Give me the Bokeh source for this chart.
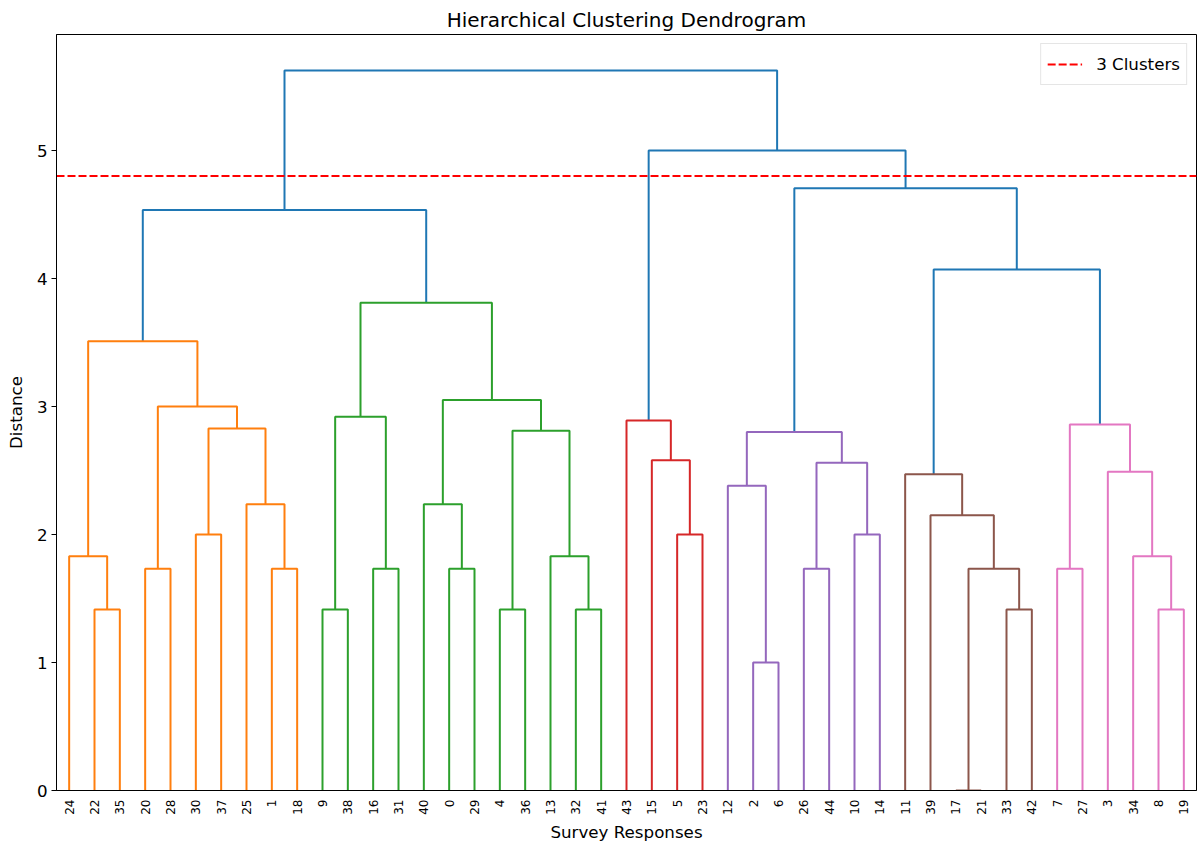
import math
from bokeh.plotting import figure
from bokeh.models import FixedTicker, Legend, LegendItem
from bokeh.embed import file_html
from bokeh.resources import INLINE

# ---------------- data ----------------
n_leaves = 45
# merges in linkage order: new cluster id = n_leaves + index
merge_left = [22, 24, 20, 30, 1, 25, 48, 47, 46,
              9, 16, 54, 0, 40, 4, 32, 13, 59, 58, 56, 53,
              5, 15, 43,
              2, 12, 26, 10, 71, 70,
              17, 33, 75, 39, 11,
              7, 8, 34, 3, 80,
              79, 74, 68, 65]
merge_right = [35, 45, 28, 37, 18, 49, 50, 51, 52,
               38, 31, 55, 29, 57, 36, 41, 60, 61, 62, 63, 64,
               23, 66, 67,
               6, 69, 44, 14, 72, 73,
               21, 42, 76, 77, 78,
               27, 19, 81, 82, 83,
               84, 85, 86, 87]
merge_height = [1.414, 1.83, 1.732, 2.0, 1.732, 2.236, 2.828, 3.0, 3.51,
                1.414, 1.732, 2.92, 1.732, 2.236, 1.414, 1.414, 1.83, 2.81, 3.05, 3.81, 4.535,
                2.0, 2.58, 2.89,
                1.0, 2.38, 1.732, 2.0, 2.56, 2.8,
                0.0, 1.414, 1.732, 2.15, 2.47,
                1.732, 1.414, 1.83, 2.49, 2.86,
                4.07, 4.705, 5.0, 5.625]
cut_height = 4.8
cut_label = "3 Clusters"
palette = ["#ff7f0e", "#2ca02c", "#d62728", "#9467bd", "#8c564b",
           "#e377c2", "#7f7f7f", "#bcbd22", "#17becf"]
above_color = "#1f77b4"

# ---------------- tree layout ----------------
root = n_leaves + len(merge_left) - 1
children = {n_leaves + i: (merge_left[i], merge_right[i]) for i in range(len(merge_left))}
heights = {n_leaves + i: merge_height[i] for i in range(len(merge_left))}

leaf_order = []
def collect(node):
    if node < n_leaves:
        leaf_order.append(node)
    else:
        l, r = children[node]
        collect(l)
        collect(r)
collect(root)

xpos = {leaf: 5 + 10 * i for i, leaf in enumerate(leaf_order)}
def place(node):
    if node < n_leaves:
        return xpos[node]
    l, r = children[node]
    xpos[node] = (place(l) + place(r)) / 2.0
    return xpos[node]
place(root)

def h(node):
    return 0.0 if node < n_leaves else heights[node]

thr = 0.7 * max(merge_height)
xs, ys, cols = [], [], []
color_idx = [0]
def draw(node, inherited):
    if node < n_leaves:
        return
    hh = heights[node]
    if inherited is None and hh < thr:
        c = palette[color_idx[0] % len(palette)]
        color_idx[0] += 1
        child_col = c
    elif inherited is not None:
        c = inherited
        child_col = inherited
    else:
        c = above_color
        child_col = None
    l, r = children[node]
    xs.append([xpos[l], xpos[l], xpos[r], xpos[r]])
    ys.append([h(l), hh, hh, h(r)])
    cols.append(c)
    draw(l, child_col)
    draw(r, child_col)
draw(root, None)

x_max = 10 * n_leaves
y_max = max(merge_height) * 1.05

# ---------------- figure ----------------
FONT = "DejaVu Sans"
p = figure(width=1198, height=846, output_backend="svg", toolbar_location=None,
           x_range=(0, x_max), y_range=(0, y_max),
           title="Hierarchical Clustering Dendrogram",
           min_border_left=56, min_border_right=2, min_border_top=34, min_border_bottom=56)
p.title.align = "center"
p.title.text_font = FONT
p.title.text_font_size = "20px"
p.title.text_font_style = "normal"
p.title.text_color = "black"
p.title.standoff = 6

p.multi_line(xs=xs, ys=ys, line_color=cols, line_width=2)

thr_line = p.line(x=[0, x_max], y=[cut_height, cut_height], line_color="#ff0000",
                  line_width=2, line_dash="8 3")

p.xgrid.visible = False
p.ygrid.visible = False
p.outline_line_color = "black"
p.outline_line_width = 1

p.xaxis.ticker = FixedTicker(ticks=[xpos[l] for l in leaf_order])
p.xaxis.major_label_overrides = {xpos[l]: str(l) for l in leaf_order}
p.xaxis.major_label_orientation = math.pi / 2
p.xaxis.major_tick_out = 0
p.xaxis.major_tick_in = 0
p.xaxis.minor_tick_out = 0
p.xaxis.minor_tick_in = 0
p.xaxis.major_label_standoff = 9
p.xaxis.major_label_text_font_size = "12px"
p.xaxis.axis_label = "Survey Responses"
p.xaxis.axis_label_standoff = 4

p.yaxis.ticker = FixedTicker(ticks=[0, 1, 2, 3, 4, 5])
p.yaxis.major_tick_out = 5
p.yaxis.major_tick_in = 0
p.yaxis.minor_tick_out = 0
p.yaxis.minor_tick_in = 0
p.yaxis.major_label_standoff = 4
p.yaxis.major_label_text_font_size = "16.7px"
p.yaxis.axis_label = "Distance"
p.yaxis.axis_label_standoff = 8

for ax in (p.xaxis, p.yaxis):
    ax.axis_line_color = "black"
    ax.major_tick_line_color = "black"
    ax.major_label_text_color = "black"
    ax.major_label_text_font = FONT
    ax.axis_label_text_font = FONT
    ax.axis_label_text_font_size = "16.7px"
    ax.axis_label_text_font_style = "normal"
    ax.axis_label_text_color = "black"

legend = Legend(items=[LegendItem(label=cut_label, renderers=[thr_line])],
                location="top_right", label_text_font=FONT, label_text_font_size="16.7px",
                label_text_color="black", border_line_color="#cccccc", border_line_width=1,
                glyph_width=35, glyph_height=28, label_standoff=14, padding=6, margin=9,
                spacing=0, background_fill_alpha=0.8)
p.add_layout(legend)

open("out.html", "w").write(file_html(p, INLINE))
